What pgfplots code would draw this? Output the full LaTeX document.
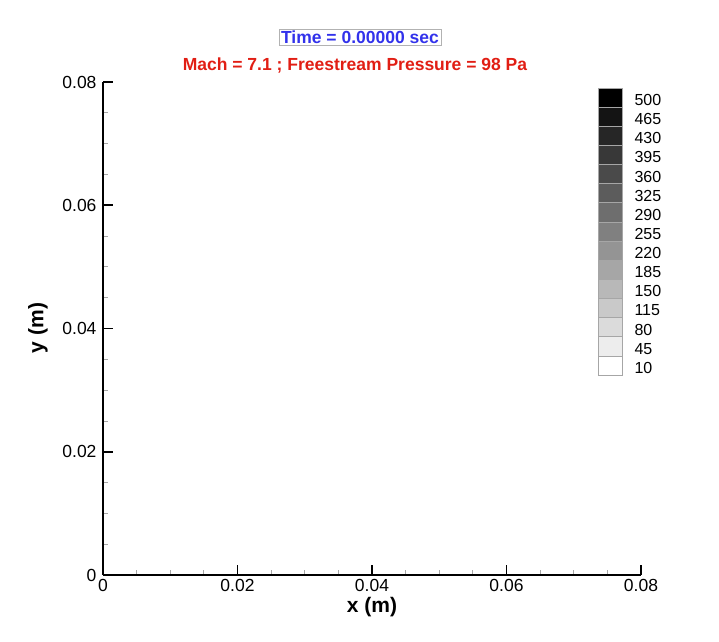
\documentclass[border=0pt]{standalone}
\usepackage{fontspec}
\setmainfont{Liberation Sans}
\usepackage{pgfplots}
\pgfplotsset{compat=1.18}

\definecolor{titleblue}{RGB}{50,50,235}
\definecolor{titlered}{RGB}{225,30,20}

\begin{document}
\begin{tikzpicture}[x=1bp,y=1bp]
\path (0,0) rectangle (719,642);

% main (empty) field axis
\begin{axis}[
    at={(103bp,67bp)}, anchor=south west,
    scale only axis, width=538bp, height=493bp,
    xmin=0, xmax=0.08, ymin=0, ymax=0.08,
    scaled ticks=false,
    axis x line*=bottom, axis y line*=left,
    axis line style={line width=1.6bp, -},
    xtick={0,0.02,0.04,0.06,0.08}, ytick={0,0.02,0.04,0.06,0.08},
    xticklabels={0,0.02,0.04,0.06,0.08}, yticklabels={0,0.02,0.04,0.06,0.08},
    minor x tick num=3, minor y tick num=3,
    tick align=inside,
    major tick length=10bp, minor tick length=5bp,
    major tick style={line width=1.6bp, black},
    minor tick style={line width=0.8bp, gray!70},
    /pgf/number format/assume math mode=true,
    tick label style={font=\fontsize{17.5bp}{20bp}\selectfont},
    xticklabel style={yshift=-1bp},
    yticklabel style={xshift=-3bp},
    xlabel={\textbf{x (m)}}, ylabel={\textbf{y (m)}},
    label style={font=\fontsize{21bp}{24bp}\selectfont},
    xlabel style={at={(axis description cs:0.5,-0.065)}, anchor=center},
    ylabel style={at={(axis description cs:-0.121,0.501)}, anchor=center},
]
\end{axis}

% contour legend
\begin{axis}[
    at={(598bp,267bp)}, anchor=south west,
    scale only axis, width=24bp, height=287bp,
    xmin=0, xmax=1, ymin=0, ymax=15,
    clip=false,
    axis line style={draw=none},
    xtick=\empty,
    ytick={0.37,1.37,2.37,3.37,4.37,5.37,6.37,7.37,8.37,9.37,10.37,11.37,12.37,13.37,14.37},
    yticklabels={10,45,80,115,150,185,220,255,290,325,360,395,430,465,500},
    yticklabel pos=right,
    major tick length=0pt,
    tick label style={font=\fontsize{16bp}{18bp}\selectfont, xshift=9bp},
    every axis plot/.append style={draw=gray!70, line width=0.6bp, mark=none},
]
\addplot[fill=black!0]   coordinates {(0,0) (1,0) (1,1) (0,1)} -- cycle;
\addplot[fill=black!7]   coordinates {(0,1) (1,1) (1,2) (0,2)} -- cycle;
\addplot[fill=black!14]  coordinates {(0,2) (1,2) (1,3) (0,3)} -- cycle;
\addplot[fill=black!21]  coordinates {(0,3) (1,3) (1,4) (0,4)} -- cycle;
\addplot[fill=black!28]  coordinates {(0,4) (1,4) (1,5) (0,5)} -- cycle;
\addplot[fill=black!35]  coordinates {(0,5) (1,5) (1,6) (0,6)} -- cycle;
\addplot[fill=black!42]  coordinates {(0,6) (1,6) (1,7) (0,7)} -- cycle;
\addplot[fill=black!50]  coordinates {(0,7) (1,7) (1,8) (0,8)} -- cycle;
\addplot[fill=black!57]  coordinates {(0,8) (1,8) (1,9) (0,9)} -- cycle;
\addplot[fill=black!64]  coordinates {(0,9) (1,9) (1,10) (0,10)} -- cycle;
\addplot[fill=black!71]  coordinates {(0,10) (1,10) (1,11) (0,11)} -- cycle;
\addplot[fill=black!78]  coordinates {(0,11) (1,11) (1,12) (0,12)} -- cycle;
\addplot[fill=black!85]  coordinates {(0,12) (1,12) (1,13) (0,13)} -- cycle;
\addplot[fill=black!92]  coordinates {(0,13) (1,13) (1,14) (0,14)} -- cycle;
\addplot[fill=black!100] coordinates {(0,14) (1,14) (1,15) (0,15)} -- cycle;
\end{axis}

% titles
\node[draw=gray!60, line width=0.6bp, inner xsep=2bp, inner ysep=1.5bp,
      text=titleblue, font=\bfseries\fontsize{17.5bp}{20bp}\selectfont]
      at (360,605) {Time = 0.00000 sec};
\node[text=titlered, font=\bfseries\fontsize{17.5bp}{20bp}\selectfont]
      at (355,576) {Mach = 7.1 ; Freestream Pressure = 98 Pa};
\end{tikzpicture}
\end{document}
